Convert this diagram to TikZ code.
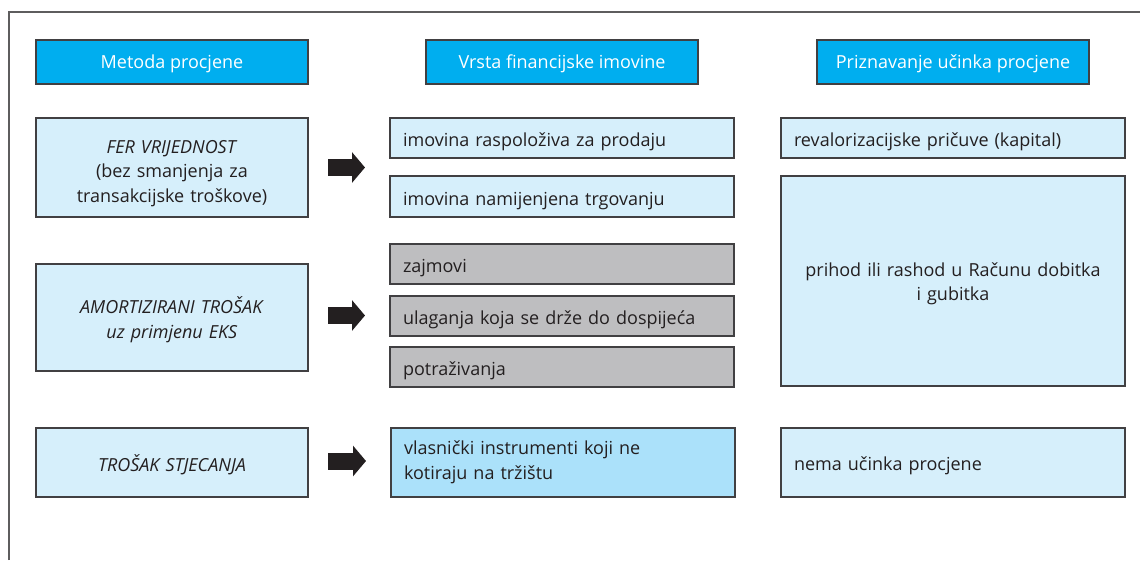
\documentclass[tikz,border=0pt]{standalone}
\usepackage{fontspec}
\setmainfont{Open Sans}
\usetikzlibrary{positioning, arrows.meta}

\definecolor{headcyan}{RGB}{0,174,239}
\definecolor{boxblue}{RGB}{214,239,251}
\definecolor{boxgray}{RGB}{190,190,192}
\definecolor{deepblue}{RGB}{171,225,250}
\definecolor{edgegray}{RGB}{65,64,66}
\definecolor{arrowdark}{RGB}{35,31,32}

\begin{document}
\begin{tikzpicture}[
        x=1pt, y=-1pt,
        font=\fontsize{18}{24.5}\selectfont,
        every node/.style={outer sep=0pt, line width=1.5pt, draw=edgegray, text=arrowdark},
        oneline/.style={text height=#1, text depth=0pt},
        drop/.style={text height=#1},
        head/.style={rectangle, fill=headcyan, text=white, minimum width=272pt, minimum height=44pt, inner sep=0pt, oneline=13pt},
        method/.style={rectangle, fill=boxblue, text width=250pt, inner xsep=11pt, inner ysep=0pt, align=center},
        item/.style={rectangle, fill=boxblue, text width=318pt, inner xsep=13pt, inner ysep=0pt, align=left, minimum height=40pt},
        grayitem/.style={item, fill=boxgray},
        effect/.style={item},
        bigarrow/.style={draw=arrowdark, line width=17pt, -{Triangle[length=13pt, width=30pt]}, shorten <=20pt, shorten >=25pt}
    ]
    \useasboundingbox (0,0) rectangle (1140,560);

    % Frame
    \draw [edgegray!85, line width=1.5pt] (9,560) -- (9,12) -- (1140,12);

    % Headers
    \node (hmet) [head, anchor=north west] at (36,40) {Metoda procjene};
    \node (hvrs) [head, right=118pt of hmet] {Vrsta financijske imovine};
    \node (hpri) [head, right=119pt of hvrs] {Priznavanje učinka procjene};

    % Methods
    \node (fer) [method, minimum height=99pt, drop=25pt, below=34pt of hmet] {\textit{FER VRIJEDNOST}\\(bez smanjenja za\\transakcijske troškove)};
    \node (amort) [method, minimum height=107pt, drop=21pt, below=47pt of fer] {\textit{AMORTIZIRANI TROŠAK}\\\textit{uz primjenu EKS}};
    \node (trosak) [method, minimum height=69pt, oneline=17pt, below=57pt of amort] {\textit{TROŠAK STJECANJA}};

    % Financial assets
    \node (ras) [item, oneline=17pt, below=34pt of hvrs] {imovina raspoloživa za prodaju};
    \node (trg) [item, oneline=17pt, minimum height=41pt, below=18pt of ras] {imovina namijenjena trgovanju};
    \node (zaj) [grayitem, oneline=17pt, below=27pt of trg] {zajmovi};
    \node (ula) [grayitem, oneline=17pt, below=12pt of zaj] {ulaganja koja se drže do dospijeća};
    \node (pot) [grayitem, oneline=17pt, below=11pt of ula] {potraživanja};
    \node (vla) [item, fill=deepblue, minimum height=69pt, right=83pt of trosak] {vlasnički instrumenti koji ne\\kotiraju na tržištu};

    % Effects
    \node (rev) [effect, oneline=17pt, below=34pt of hpri] {revalorizacijske pričuve (kapital)};
    \node (pri) [effect, minimum height=210pt, align=center, drop=19pt, below=18pt of rev] {prihod ili rashod u Računu dobitka\\i gubitka};
    \node (nem) [effect, minimum height=69pt, oneline=15pt, right=46pt of vla] {nema učinka procjene};

    % Arrows
    \draw [bigarrow] (fer.east) -- (fer.east -| ras.west);
    \draw [bigarrow] ([yshift=2pt]amort.east) -- ([yshift=2pt]amort.east -| ula.west);
    \draw [bigarrow] ([yshift=1.5pt]trosak.east) -- ([yshift=1.5pt]trosak.east -| vla.west);

\end{tikzpicture}
\end{document}
